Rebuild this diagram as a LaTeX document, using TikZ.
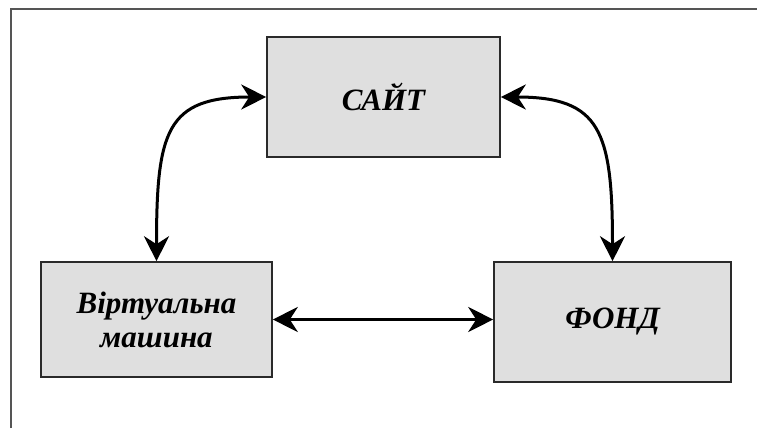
\documentclass[tikz,border=0pt]{standalone}
\usepackage{fontspec}
\setmainfont{Liberation Serif}
\usetikzlibrary{arrows.meta}
\definecolor{boxfill}{HTML}{DFDFDF}
\definecolor{boxline}{HTML}{2A2A2A}
\definecolor{frameline}{HTML}{555555}
\tikzset{
  block/.style={draw=boxline, line width=1.6pt, fill=boxfill, inner sep=0pt,
    font=\fontsize{31}{34}\selectfont\bfseries\itshape, align=center},
  tip/.style={Stealth[length=25pt,width=25pt,inset=8pt]},
  link/.style={line width=3pt, {Stealth[length=25pt,width=25pt,inset=8pt]}-{Stealth[length=25pt,width=25pt,inset=8pt]}},
}
\begin{document}
\begin{tikzpicture}[x=1pt,y=-1pt]
  \useasboundingbox (0,0) rectangle (757,428);
  % page frame, left and top edges
  \draw[frameline, line width=2pt] (11,428) -- (11,9) -- (757,9);
  % blocks
  \node[block, minimum width=233pt, minimum height=120pt] (site) at (383.5,97) {САЙТ};
  \node[block, minimum width=231pt, minimum height=115pt] (vm) at (156.5,319.5) {Віртуальна\\машина};
  \node[block, minimum width=237pt, minimum height=120pt] (fond) at (612.5,322) {ФОНД};
  % connectors
  \draw[link] (vm.north) to[out=90, in=180, out distance=130pt, in distance=100pt] (site.west);
  \draw[link] (fond.north) to[out=90, in=0, out distance=130pt, in distance=100pt] (site.east);
  \draw[link] (vm.east) -- (vm.east -| fond.west);
\end{tikzpicture}
\end{document}
